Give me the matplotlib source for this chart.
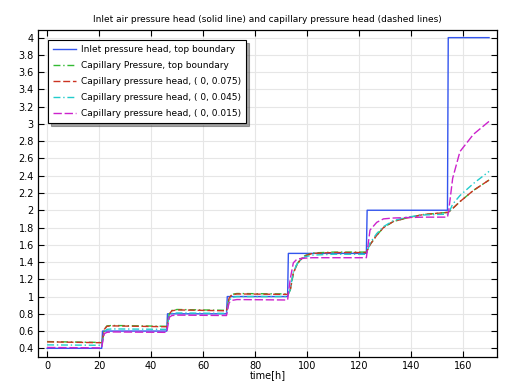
import matplotlib
matplotlib.use('Agg')
import matplotlib.pyplot as plt
import matplotlib.ticker as ticker

# Inlet air pressure head (solid line)
t_inlet = [0, 21.0, 21.3, 46.0, 46.3, 69.0, 69.3, 92.5, 92.8, 122.8, 123.1, 154.0, 154.3, 170]
p_inlet = [0.40, 0.40, 0.60, 0.60, 0.80, 0.80, 1.00, 1.00, 1.50, 1.50, 2.00, 2.00, 4.00, 4.00]

# Capillary pressure heads (dashed lines), common time grid
t_cap = [0, 21, 21.5, 22, 23, 25, 46, 46.5, 47, 48, 50, 69, 69.5, 70, 71, 73,
         92.5, 93.5, 94.7, 96, 97.3, 99.2, 102, 110, 122.8, 124.2, 126.8, 129.4,
         133.2, 138.3, 144.7, 154, 154.5, 156, 158.8, 164, 170]
cap_top = [0.478, 0.468, 0.53, 0.62, 0.66, 0.665, 0.655, 0.72, 0.80, 0.84, 0.85, 0.84,
           0.90, 0.98, 1.025, 1.035, 1.03, 1.07, 1.27, 1.37, 1.43, 1.475, 1.505, 1.515,
           1.515, 1.60, 1.71, 1.80, 1.87, 1.91, 1.95, 1.975, 1.98, 2.02, 2.10, 2.23, 2.35]
cap_075 = [0.475, 0.465, 0.53, 0.62, 0.655, 0.66, 0.65, 0.72, 0.80, 0.835, 0.845, 0.835,
           0.90, 0.98, 1.02, 1.03, 1.025, 1.07, 1.27, 1.36, 1.42, 1.47, 1.50, 1.51,
           1.51, 1.60, 1.71, 1.80, 1.87, 1.91, 1.95, 1.975, 1.98, 2.02, 2.10, 2.23, 2.35]
cap_045 = [0.44, 0.435, 0.50, 0.59, 0.62, 0.625, 0.62, 0.70, 0.78, 0.805, 0.81, 0.805,
           0.87, 0.95, 0.99, 1.00, 1.00, 1.08, 1.28, 1.37, 1.42, 1.46, 1.48, 1.49,
           1.49, 1.62, 1.73, 1.81, 1.88, 1.92, 1.945, 1.955, 1.97, 2.07, 2.17, 2.31, 2.45]
cap_015 = [0.41, 0.405, 0.50, 0.57, 0.585, 0.59, 0.585, 0.67, 0.76, 0.78, 0.785, 0.78,
           0.86, 0.93, 0.955, 0.965, 0.96, 1.20, 1.39, 1.43, 1.44, 1.445, 1.45, 1.45,
           1.45, 1.77, 1.86, 1.90, 1.91, 1.915, 1.92, 1.92, 2.00, 2.37, 2.68, 2.88, 3.03]

labels = ['Inlet pressure head, top boundary',
          'Capillary Pressure, top boundary',
          'Capillary pressure head, ( 0, 0.075)',
          'Capillary pressure head, ( 0, 0.045)',
          'Capillary pressure head, ( 0, 0.015)']

fs = 6.5

fig = plt.figure(figsize=(5.07, 3.83), dpi=100)
ax = fig.add_axes([0.075, 0.068, 0.905, 0.854])

ax.plot(t_inlet, p_inlet, color='#3355ee', lw=1.0, label=labels[0])
ax.plot(t_cap, cap_top, color='#33bb33', lw=1.0, dashes=(5, 2, 1, 2), label=labels[1])
ax.plot(t_cap, cap_075, color='#cc3322', lw=1.0, dashes=(5, 2), label=labels[2])
ax.plot(t_cap, cap_045, color='#22cccc', lw=1.0, dashes=(5, 2, 1, 2), label=labels[3])
ax.plot(t_cap, cap_015, color='#cc22cc', lw=1.0, dashes=(6, 2), label=labels[4])

ax.set_xlim(-3.5, 173)
ax.set_ylim(0.3, 4.09)
ax.xaxis.set_major_locator(ticker.MultipleLocator(20))
ax.yaxis.set_major_locator(ticker.MultipleLocator(0.2))
ax.yaxis.set_major_formatter(ticker.FuncFormatter(lambda v, p: ('%.1f' % v).rstrip('0').rstrip('.')))
ax.tick_params(direction='in', top=True, right=True, labelsize=fs + 0.5, length=4, width=0.8, pad=3)
ax.grid(color='#e6e6e6', linewidth=0.8)
ax.set_axisbelow(True)
for s in ax.spines.values():
    s.set_linewidth(0.9)

ax.set_title('Inlet air pressure head (solid line) and capillary pressure head (dashed lines)',
             fontsize=fs, pad=6)
ax.set_xlabel('time[h]', fontsize=fs + 0.5, labelpad=-1)

leg = ax.legend(loc='upper left', fontsize=fs, frameon=True, fancybox=False, shadow=True,
                borderaxespad=1.1, handlelength=2.6, handletextpad=0.5,
                labelspacing=0.78, borderpad=0.55)
leg.get_frame().set_edgecolor('black')
leg.get_frame().set_linewidth(0.8)

fig.savefig('out.png', dpi=100)
